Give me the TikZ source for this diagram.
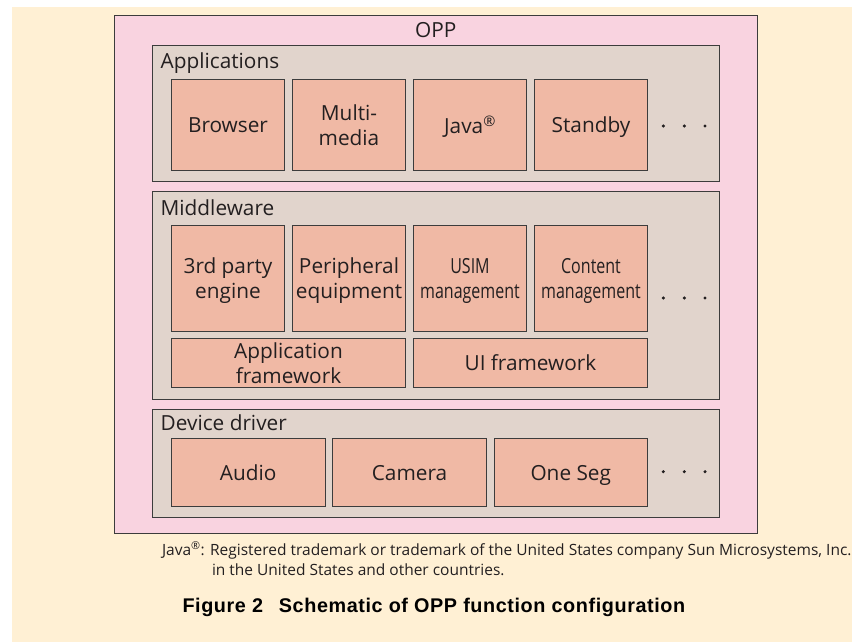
\documentclass[tikz,border=0pt]{standalone}
\usepackage{fontspec}
\usepackage{graphicx}
\setmainfont{Open Sans}
\newfontfamily\capfont{Liberation Sans}[LetterSpace=3.0]
\definecolor{cream}{HTML}{FFF0D4}
\definecolor{opppink}{HTML}{F9D3E0}
\definecolor{layerbg}{HTML}{E1D4CC}
\definecolor{leafbg}{HTML}{F0B9A5}
\definecolor{edge}{HTML}{3C3C3C}
\definecolor{ink}{HTML}{231F20}
\newcommand{\cnd}[1]{\scalebox{0.77}[1]{#1}}
\newcommand{\nd}[1]{\raisebox{0pt}[\height][0pt]{#1}}
\begin{document}
\begin{tikzpicture}[x=1pt,y=-1pt,
  every node/.style={inner sep=0pt, outer sep=0pt, text=ink},
  bodyfont/.style={font=\fontsize{20.8}{25}\selectfont},
  outerbox/.style={draw=edge, fill=opppink, line width=0.9pt, anchor=north west},
  layerbox/.style={draw=edge, fill=layerbg, line width=0.9pt, anchor=north west},
  leaf/.style={draw=edge, fill=leafbg, line width=0.8pt, align=center, bodyfont},
  layerlabel/.style={anchor=base west, bodyfont},
  dotmark/.style={fill=ink}
]
\useasboundingbox (0,0) rectangle (852,642);
\fill[white] (0,0) rectangle (852,642);
\fill[cream] (12,7) rectangle (852,642);

% outer OPP box
\node[outerbox, minimum width=643, minimum height=518.3] (opp) at (114.3,15) {};
\node[anchor=base, bodyfont] (opplabel) at (435.8,37.3) {OPP};

% layers
\node[layerbox, minimum width=567, minimum height=136] (apps) at (152.3,45.7) {};
\node[layerbox, minimum width=567, minimum height=208] (mid) at (152.3,191) {};
\node[layerbox, minimum width=567, minimum height=108.7] (dev) at (152.3,409) {};
\node[layerlabel] (appslabel) at (160.7,68.3) {Applications};
\node[layerlabel] (midlabel) at (160.7,215.7) {Middleware};
\node[layerlabel] (devlabel) at (160.7,430) {Device driver};

% application boxes
\node[leaf, minimum width=113.5, minimum height=91] (browser) at (228,124.8) {\nd{Browser}};
\node[leaf, minimum width=113.5, minimum height=91] (multimedia) at (349,124.8) {Multi-\\\nd{media}};
\node[leaf, minimum width=113.5, minimum height=91] (java) at (470,124.8) {\nd{Java\textsuperscript{®}}};
\node[leaf, minimum width=113.5, minimum height=91] (standby) at (591,124.8) {\nd{Standby}};

% middleware boxes
\node[leaf, minimum width=113.5, minimum height=106] (thirdparty) at (228,278) {3rd party\\\nd{engine}};
\node[leaf, minimum width=113.5, minimum height=106] (peripheral) at (349,278) {Peripheral\\\nd{equipment}};
\node[leaf, minimum width=113.5, minimum height=106] (usim) at (470,278) {\cnd{USIM}\\\nd{\cnd{management}}};
\node[leaf, minimum width=113.5, minimum height=106] (content) at (591,278) {\cnd{Content}\\\nd{\cnd{management}}};
\node[leaf, minimum width=234.5, minimum height=49] (appfw) at (288.5,362.8) {Application\\\nd{framework}};
\node[leaf, minimum width=234.5, minimum height=49] (uifw) at (530.5,362.8) {\nd{UI framework}};

% device driver boxes
\node[leaf, minimum width=153.8, minimum height=68] (audio) at (248.2,472.7) {\nd{Audio}};
\node[leaf, minimum width=153.8, minimum height=68] (camera) at (409.5,472.7) {\nd{Camera}};
\node[leaf, minimum width=153.8, minimum height=68] (oneseg) at (570.8,472.7) {\nd{One Seg}};

% ellipsis dots
\foreach \yy in {126,298,471.7}{
  \foreach \xx in {663.3,684.3,705}{
    \fill[dotmark] (\xx,\yy) circle (1.7);
  }
}

% footnote
\node[anchor=base west, font=\fontsize{15.5}{19}\selectfont] (fn1) at (162,555) {Java\textsuperscript{®}: Registered trademark or trademark of the United States company Sun Microsystems, Inc.};
\node[anchor=base west, font=\fontsize{15.5}{19}\selectfont] (fn2) at (212,575) {in the United States and other countries.};

% caption
\node[anchor=base west, font=\capfont\bfseries\fontsize{19.8}{23}\selectfont, text=black] (caption) at (182.5,612.3) {Figure 2\hspace{0.8em}Schematic of OPP function configuration};
\end{tikzpicture}
\end{document}
